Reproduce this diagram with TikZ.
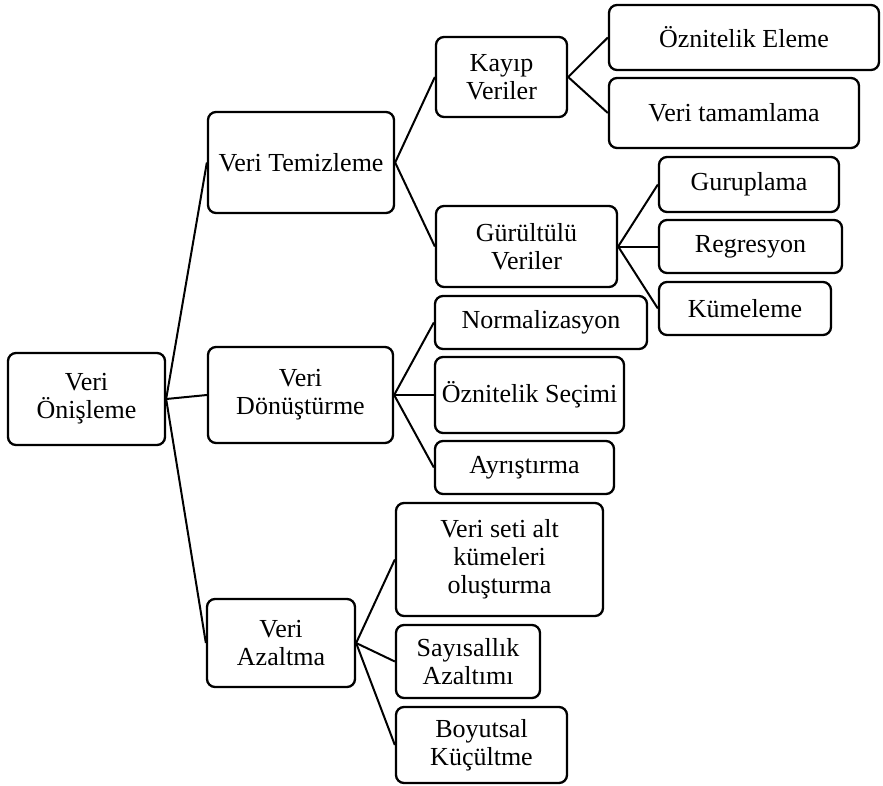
\documentclass[tikz,border=0pt]{standalone}
\usepackage{fontspec}
\setmainfont{Liberation Serif}
\begin{document}
\begin{tikzpicture}[x=1pt,y=-1pt,
  box/.style={draw=black, line width=2.3pt, rounded corners=8pt, inner sep=0pt, align=center,
    font=\fontsize{26}{28}\selectfont},
  link/.style={draw=black, line width=2pt}]
\useasboundingbox (0,0) rectangle (883,785);
\node[box, minimum width=157pt, minimum height=92pt] (on) at (86.5,399) {Veri\\Önişleme};
\node[box, minimum width=186pt, minimum height=101pt] (tem) at (301,162.5) {Veri Temizleme};
\node[box, minimum width=185pt, minimum height=96pt] (don) at (300.5,395) {Veri\\Dönüştürme};
\node[box, minimum width=148pt, minimum height=88pt] (aza) at (281,643) {Veri\\Azaltma};
\node[box, minimum width=131pt, minimum height=80pt] (kay) at (501.5,77) {Kayıp\\Veriler};
\node[box, minimum width=181pt, minimum height=81pt] (gur) at (526.5,246.5) {Gürültülü\\Veriler};
\node[box, minimum width=270pt, minimum height=65pt] (oe) at (744,37.5) {Öznitelik Eleme};
\node[box, minimum width=250pt, minimum height=70pt] (vt) at (734,113) {Veri tamamlama};
\node[box, minimum width=180pt, minimum height=55pt] (grp) at (749,184.5) {Guruplama};
\node[box, minimum width=183pt, minimum height=53pt] (reg) at (750.5,246.5) {Regresyon};
\node[box, minimum width=172pt, minimum height=53pt] (kum) at (745,308.5) {Kümeleme};
\node[box, minimum width=212pt, minimum height=53pt] (nor) at (541,322.5) {Normalizasyon};
\node[box, minimum width=189pt, minimum height=76pt] (os) at (529.5,395) {Öznitelik Seçimi};
\node[box, minimum width=179pt, minimum height=53pt] (ayr) at (524.5,467.5) {Ayrıştırma};
\node[box, minimum width=207pt, minimum height=113pt] (vs) at (499.5,559.5) {Veri seti alt\\kümeleri\\oluşturma};
\node[box, minimum width=144pt, minimum height=73pt] (say) at (468,661.5) {Sayısallık\\Azaltımı};
\node[box, minimum width=171pt, minimum height=76pt] (boy) at (481.5,745) {Boyutsal\\Küçültme};
\draw[link] (on.east) -- (tem.west);
\draw[link] (on.east) -- (don.west);
\draw[link] (on.east) -- (aza.west);
\draw[link] (tem.east) -- (kay.west);
\draw[link] (tem.east) -- (gur.west);
\draw[link] (kay.east) -- (oe.west);
\draw[link] (kay.east) -- (vt.west);
\draw[link] (gur.east) -- (grp.west);
\draw[link] (gur.east) -- (reg.west);
\draw[link] (gur.east) -- (kum.west);
\draw[link] (don.east) -- (nor.west);
\draw[link] (don.east) -- (os.west);
\draw[link] (don.east) -- (ayr.west);
\draw[link] (aza.east) -- (vs.west);
\draw[link] (aza.east) -- (say.west);
\draw[link] (aza.east) -- (boy.west);
\end{tikzpicture}
\end{document}
